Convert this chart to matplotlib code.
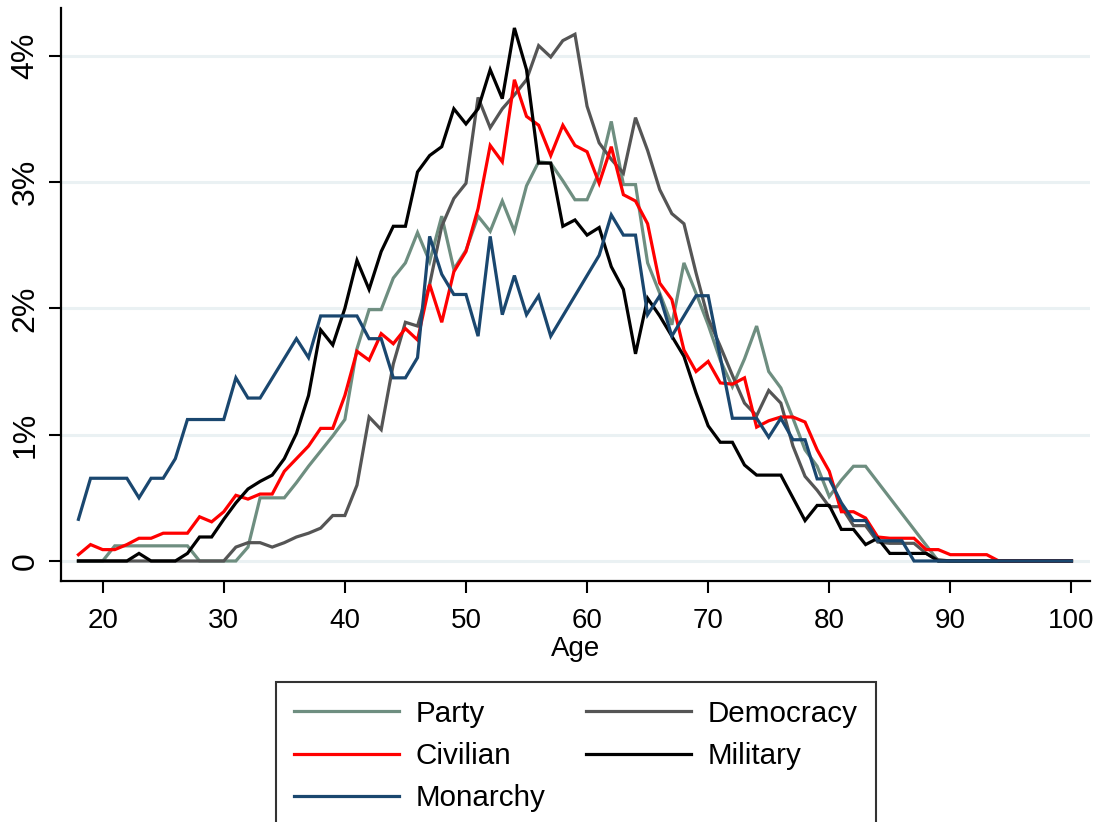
import numpy as np
import matplotlib
matplotlib.use("Agg")
import matplotlib.pyplot as plt
from matplotlib.ticker import FuncFormatter

plt.rcParams['font.family'] = ['Liberation Sans', 'DejaVu Sans']

nan = np.nan
ages = np.arange(18, 101)

# share of leaders by age at entry, in percent (nan = no vertex, line joins neighbours)
party = [0, 0, 0, 0.12, 0.12, 0.12, 0.12, 0.12, 0.12, 0.12,
         0, 0, 0, 0, 0.11, 0.50, 0.50, 0.50, 0.62, 0.75,
         0.87, 0.99, 1.12, 1.68, 1.99, 1.99, 2.24, 2.36, 2.60, 2.37,
         2.73, 2.31, 2.46, 2.73, 2.61, 2.85, 2.61, 2.97, 3.16, 3.15,
         3.01, 2.86, 2.86, 3.08, 3.48, 2.98, 2.98, 2.36, 2.12, 1.87,
         2.36, 2.12, 1.87, 1.59, 1.38, 1.60, 1.86, 1.50, 1.37, 1.13,
         0.88, 0.75, 0.51, 0.64, 0.75, 0.75, nan, nan, nan, nan,
         nan, 0, 0, 0, 0, 0, 0, 0, 0, 0,
         0, 0, 0]
democracy = [0, 0, 0, 0, 0, 0, 0, 0, 0, 0,
             0, 0, 0, 0.11, 0.145, 0.145, 0.11, 0.145, 0.19, 0.22,
             0.26, 0.36, 0.36, 0.60, 1.14, 1.04, 1.56, 1.89, 1.86, 2.19,
             2.65, 2.87, 2.99, 3.67, 3.43, 3.58, 3.69, 3.81, 4.08, 3.99,
             4.12, 4.17, 3.60, 3.31, 3.18, 3.07, 3.51, 3.25, 2.94, 2.75,
             2.67, 2.28, 1.92, 1.70, 1.47, 1.25, 1.15, 1.35, 1.25, 0.91,
             0.67, 0.56, 0.43, 0.43, 0.28, 0.28, 0.15, 0.14, 0.14, 0.14,
             0.06, 0.01, 0, 0, 0, 0, 0, 0, 0, 0,
             0, 0, 0]
civilian = [0.05, 0.13, 0.09, 0.09, 0.13, 0.18, 0.18, 0.22, 0.22, 0.22,
            0.35, 0.31, 0.39, 0.52, 0.49, 0.53, 0.53, 0.71, 0.81, 0.91,
            1.05, 1.05, 1.31, 1.66, 1.59, 1.80, 1.72, 1.84, 1.75, 2.19,
            1.89, 2.29, 2.45, 2.79, 3.29, 3.16, 3.81, 3.52, 3.45, 3.21,
            3.45, 3.29, 3.24, 2.99, 3.28, 2.90, 2.85, 2.67, 2.20, 2.07,
            1.67, 1.50, 1.58, 1.41, 1.40, 1.45, 1.06, 1.11, 1.14, 1.14,
            1.10, 0.88, 0.71, 0.39, 0.39, 0.34, 0.19, 0.18, 0.18, 0.18,
            0.09, 0.09, 0.05, 0.05, 0.05, 0.05, 0, 0, 0, 0,
            0, 0, 0]
military = [0, 0, 0, 0, 0, 0.06, 0, 0, 0, 0.06,
            0.19, 0.19, 0.33, 0.46, 0.57, 0.63, 0.68, 0.81, 1.01, 1.31,
            1.83, 1.71, 2.00, 2.38, 2.15, 2.45, 2.65, 2.65, 3.08, 3.21,
            3.28, 3.58, 3.46, 3.58, 3.89, 3.66, 4.22, 3.89, 3.15, 3.15,
            2.65, 2.70, 2.58, 2.64, 2.33, 2.15, 1.64, 2.08, 1.94, 1.78,
            1.62, 1.33, 1.07, 0.94, 0.94, 0.76, 0.68, 0.68, 0.68, 0.50,
            0.32, 0.44, 0.44, 0.25, 0.25, 0.13, 0.18, 0.06, 0.06, 0.06,
            0.06, 0, 0, 0, 0, 0, 0, 0, 0, 0,
            0, 0, 0]
monarchy = [0.33, 0.655, 0.655, 0.655, 0.655, 0.50, 0.655, 0.655, 0.81, 1.12,
            1.12, 1.12, 1.12, 1.45, 1.29, 1.29, nan, nan, 1.76, 1.61,
            1.94, 1.94, 1.94, 1.94, 1.76, 1.76, 1.45, 1.45, 1.61, 2.57,
            2.27, 2.11, 2.11, 1.78, 2.57, 1.95, 2.26, 1.95, 2.10, 1.78,
            nan, nan, nan, 2.42, 2.74, 2.58, 2.58, 1.95, 2.10, 1.78,
            1.94, 2.10, 2.10, nan, 1.13, 1.13, 1.13, 0.98, 1.13, 0.96,
            0.96, 0.65, 0.65, 0.46, 0.32, 0.32, 0.16, 0.16, 0.16, 0,
            0, 0, 0, 0, 0, 0, 0, 0, 0, 0,
            0, 0, 0]

series = [
    ("Party", party, "#6e8e80"),
    ("Democracy", democracy, "#555555"),
    ("Civilian", civilian, "#ff0000"),
    ("Military", military, "#000000"),
    ("Monarchy", monarchy, "#1a476f"),
]

fig = plt.figure(figsize=(11.03, 8.22), dpi=100)
ax = fig.add_axes([61 / 1103, 241.3 / 822, 1029 / 1103, 572.7 / 822])

lines = {}
for name, vals, col in series:
    v = np.array(vals, dtype=float)
    m = ~np.isnan(v)
    lines[name], = ax.plot(ages[m], v[m], color=col, lw=2.3, label=name,
                           solid_joinstyle='miter')

ax.set_xlim(16.56, 101.53)
ax.set_ylim(-0.156, 4.378)
ax.set_xticks([20, 30, 40, 50, 60, 70, 80, 90, 100])
ax.set_yticks([0, 1, 2, 3, 4])
ax.yaxis.set_major_formatter(FuncFormatter(lambda v, p: "0" if v == 0 else f"{int(v)}%"))
ax.grid(axis='y', color='#eaf1f3', lw=2.2)
ax.set_axisbelow(True)

for s in ['top', 'right']:
    ax.spines[s].set_visible(False)
for s in ['left', 'bottom']:
    ax.spines[s].set_linewidth(1.6)

ax.tick_params(axis='both', length=8.8, width=1.5)
ax.tick_params(axis='x', labelsize=20, pad=11)
ax.tick_params(axis='y', labelsize=23, pad=6)
for lab in ax.get_yticklabels():
    lab.set_rotation(90)
    lab.set_va('center')
ax.set_xlabel("Age", fontsize=20, labelpad=1)

order = ["Party", "Civilian", "Monarchy", "Democracy", "Military"]
leg = fig.legend([lines[n] for n in order], order, ncol=2,
                 loc='upper left', bbox_to_anchor=(276 / 1103, 1 - 682 / 822),
                 borderaxespad=0, fontsize=21.3, frameon=True, fancybox=False,
                 handlelength=3.55, handletextpad=0.58, columnspacing=1.35,
                 labelspacing=0.48, borderpad=0.6)
leg.get_frame().set_edgecolor('black')
leg.get_frame().set_linewidth(1.5)

fig.savefig("out.png", dpi=100)
